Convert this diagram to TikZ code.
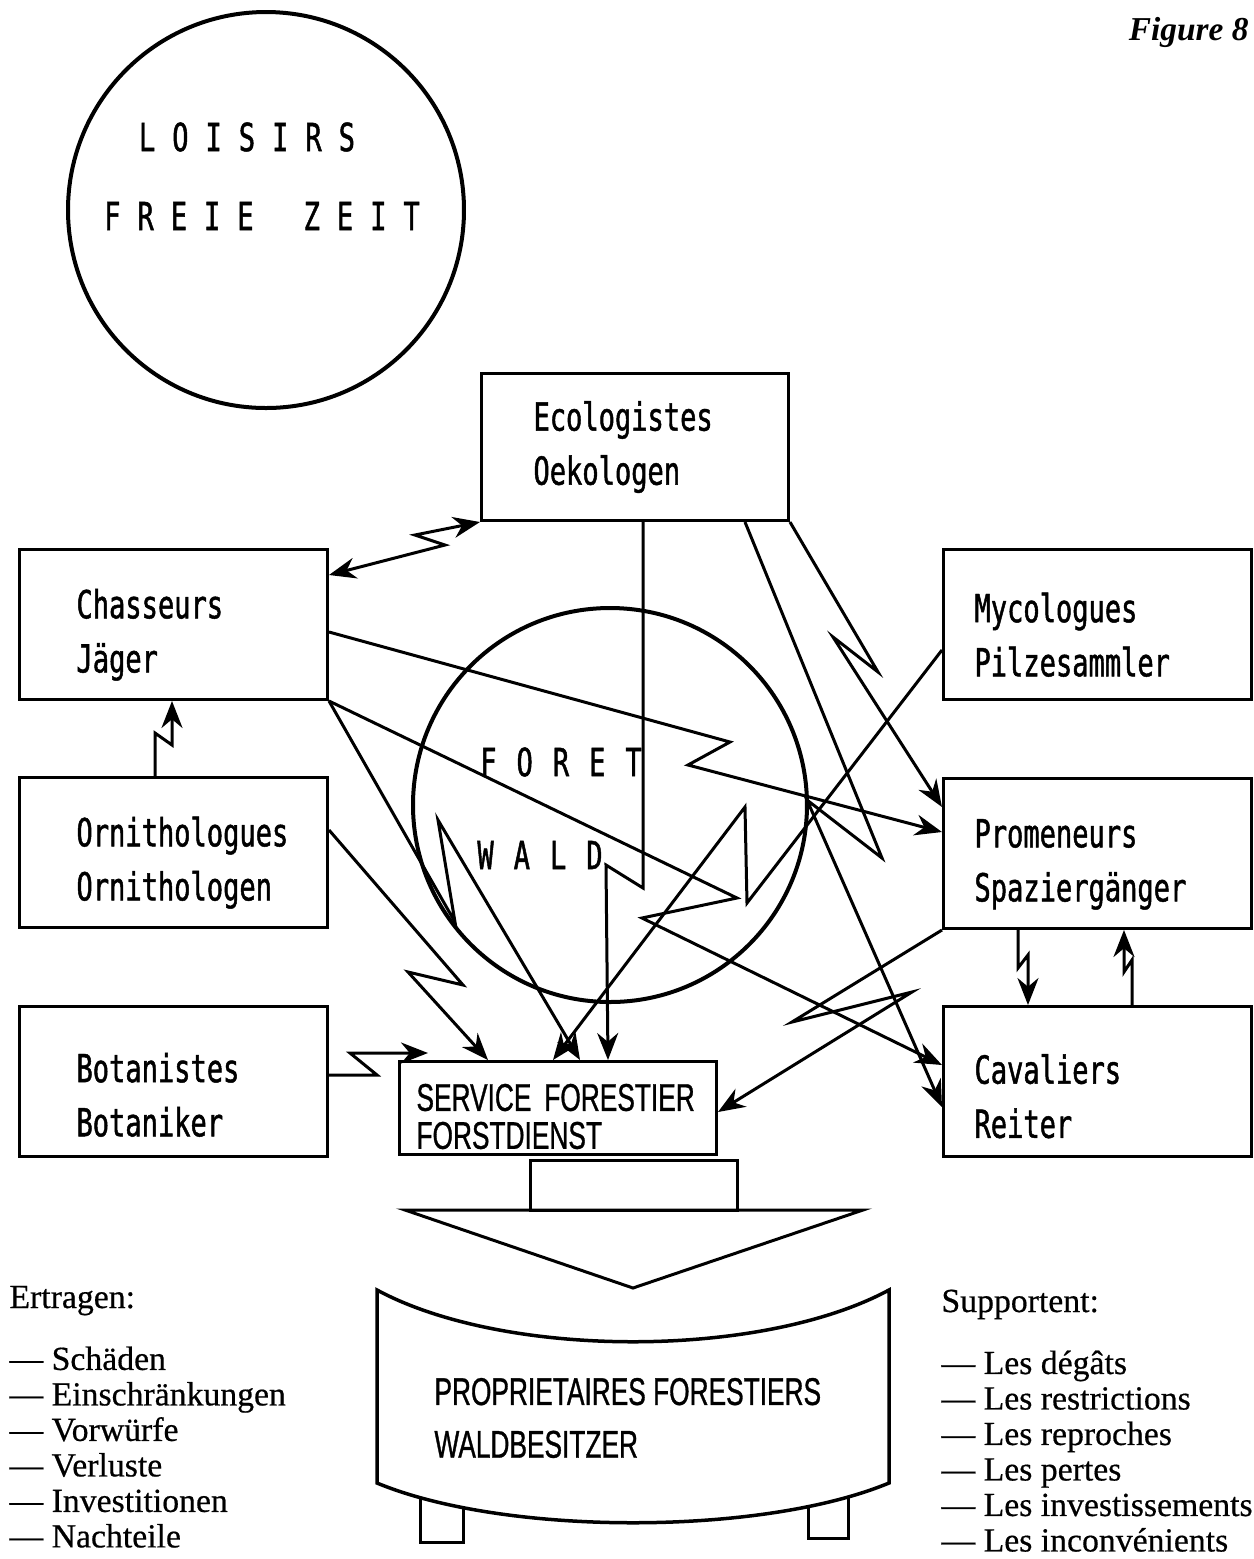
\documentclass[tikz,border=0pt]{standalone}
\usepackage{fontspec}
\setmainfont{Liberation Serif}
\newfontfamily\monofont[FakeStretch=0.7,FakeBold=1.2]{DejaVu Sans Mono}
\newfontfamily\narrowfont[FakeStretch=0.68,FakeBold=0.8]{Liberation Sans}
\newfontfamily\legendfont[FakeBold=0.5,Ligatures=TeX]{Liberation Serif}
\usetikzlibrary{arrows.meta}
\newcommand\lettergap{\hspace{1.7mm}}
\newcommand\wideletter{\hspace{2mm}}

\begin{document}
\begin{tikzpicture}[x=0.1mm,y=-0.1mm,line width=0.3mm,
  >={Stealth[length=2.7mm,width=2.1mm]},
  box/.style={draw,anchor=north west,minimum height=15mm,align=left,font=\monofont\fontsize{11}{15.4}\selectfont},
  lbox/.style={box,inner xsep=5.7mm,text width=19.4mm,execute at begin node=\rule{0pt}{#1}},
  lbox/.default=5mm,
  rbox/.style={box,inner xsep=3.1mm,text width=24.6mm,execute at begin node=\rule{0pt}{#1}},
  rbox/.default=5mm,
  ring/.style={draw,circle,line width=0.4mm,inner sep=0},
  spaced/.style={font=\monofont\fontsize{11}{13}\selectfont,inner sep=0},
  legend/.style={inner sep=0,align=left,font=\legendfont\fontsize{9.6}{10.1}\selectfont}]
\useasboundingbox (0,0) rectangle (1254,1559);

\node[anchor=base east,inner sep=0,font=\bfseries\itshape\fontsize{9.5}{11}\selectfont] (fig) at (1250,40) {Figure 8};

\node[ring,minimum size=39.6mm] (loisirs) at (266,210) {};
\node[spaced] (loisirsfr) at (247,137) {L\lettergap O\lettergap I\lettergap S\lettergap I\lettergap R\lettergap S};
\node[spaced] (loisirsde) at (262,216) {F\lettergap R\lettergap E\lettergap I\lettergap E\lettergap\hspace{1.6mm}\lettergap Z\lettergap E\lettergap I\lettergap T};

\node[ring,minimum size=39.4mm] (foret) at (610,805) {};
\node[spaced] (foretfr) at (561,762) {F\wideletter O\wideletter R\wideletter E\wideletter T};
\node[spaced] (foretde) at (540,855) {W\wideletter A\wideletter L\wideletter D};

\node[box,minimum height=14.7mm,inner xsep=5.2mm,text width=20.3mm] (eco) at (480,372) {Ecologistes\\Oekologen};
\node[lbox] (chas) at (18,548) {Chasseurs\\Jäger};
\node[lbox] (orn) at (18,776) {Ornithologues\\Ornithologen};
\node[lbox=5.6mm] (bot) at (18,1005) {Botanistes\\Botaniker};
\node[rbox] (myc) at (942,548) {Mycologues\\Pilzesammler};
\node[rbox] (prom) at (942,777) {Promeneurs\\Spaziergänger};
\node[rbox=5.9mm] (cav) at (942,1005) {Cavaliers\\Reiter};
\node[draw,anchor=north west,minimum height=9.3mm,inner xsep=1.7mm,inner ysep=0.3mm,text width=28.3mm,align=left,
  font=\narrowfont\fontsize{11}{10.8}\selectfont] (serv) at (398,1060) {\rule{0pt}{4.4mm}SERVICE FORESTIER\\FORSTDIENST};
\coordinate (botin) at ([shift={(30,-7)}]serv.north west);

\draw[<->] (eco.south west) -- (415,535) -- (445,545) -- (chas.east |- 0,575);
\draw[->] (eco.south -| 643,0) -- (643,888) -- (606,865) -- (serv.north -| 608,0);
\draw[->] (eco.south east) -- (878,672) -- (833,637) -- (prom.west |- 0,807);
\draw[->] (eco.south -| 745,0) -- (882,858) -- (807,800) -- (cav.west |- 0,1107);
\draw[->] (chas.east |- 0,632) -- (730,742) -- (688,765) -- (prom.west |- 0,832);
\draw[->] (chas.south east) -- (455,922) -- (438,820) -- (serv.north -| 580,0);
\draw[->] (chas.south east) -- (737,898) -- (642,918) -- (cav.west |- 0,1065);
\draw[->] (myc.west |- 0,650) -- (747,903) -- (745,807) -- (serv.north -| 553,0);
\draw[->] (orn.east |- 0,830) -- (463,985) -- (408,972) -- (serv.north -| 488,0);
\draw[->] (bot.east |- 0,1075) -- (377,1075) -- (350,1053) -- (botin);
\draw[->] (prom.south west) -- (792,1022) -- (912,992) -- (serv.east |- 0,1112);
\draw[->] (orn.north -| 155,0) -- (155,733) -- (172,745) -- (chas.south -| 172,0);
\draw[->] (prom.south -| 1018,0) -- (1018,968) -- (1028,955) -- (cav.north -| 1028,0);
\draw[->] (cav.north -| 1132,0) -- (1132,960) -- (1124,972) -- (prom.south -| 1124,0);

\draw (530,1160) rectangle (737,1210);
\draw (405,1210) -- (863,1210) -- (633,1288) -- cycle;
\draw (420,1480) rectangle (463,1542);
\draw (808,1480) rectangle (848,1538);
\draw[fill=white,line width=0.35mm] (377,1290) .. controls (505,1359) and (761,1359) .. (889,1290)
  -- (889,1483) .. controls (761,1536) and (505,1536) .. (377,1483) -- cycle;
\node[anchor=west,inner sep=0,align=left,font=\narrowfont\fontsize{11}{15}\selectfont] (owner) at (433,1418)
  {PROPRIETAIRES FORESTIERS\\WALDBESITZER};

\node[legend,anchor=base west] (ertr) at (8,1308) {Ertragen:};
\node[legend,anchor=north west] (ertrlist) at (8,1345)
  {— Schäden\\— Einschränkungen\\— Vorwürfe\\— Verluste\\— Investitionen\\— Nachteile};
\node[legend,anchor=base west] (supp) at (940,1312) {Supportent:};
\node[legend,anchor=north west] (supplist) at (940,1349)
  {— Les dégâts\\— Les restrictions\\— Les reproches\\— Les pertes\\— Les investissements\\— Les inconvénients};
\end{tikzpicture}
\end{document}
